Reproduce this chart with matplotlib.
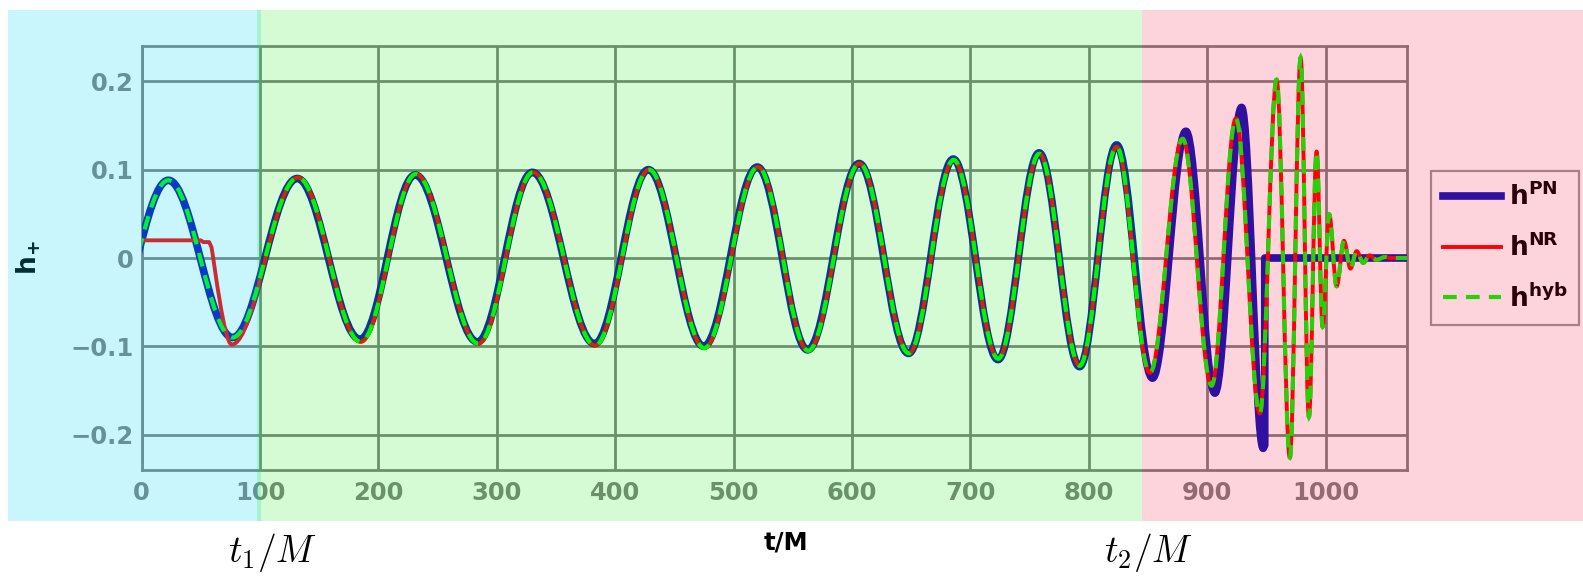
import matplotlib
matplotlib.use("Agg")
import matplotlib.pyplot as plt
from matplotlib.path import Path
from matplotlib.patches import PathPatch, Rectangle
from matplotlib.lines import Line2D
from matplotlib.transforms import blended_transform_factory
from matplotlib.ticker import FixedLocator, FixedFormatter

# ---------------- data ----------------
x_ticks = [0, 100, 200, 300, 400, 500, 600, 700, 800, 900, 1000]
x_tick_labels = ["0", "100", "200", "300", "400", "500", "600", "700", "800", "900", "1000"]
y_ticks = [-0.2, -0.1, 0.0, 0.1, 0.2]
y_tick_labels = ["\u22120.2", "\u22120.1", "0", "0.1", "0.2"]
t_range = [0, 1069]
h_range = [-0.24, 0.24]
t1_val = 100
t2_val = 845

# PN waveform: extrema (time, strain), then jump to zero
pn_ext_t = [-30.0, 22.5, 76.8, 131.4, 184.4, 231.0, 283.6, 330.0, 382.5, 428.0,
            474.7, 520.0, 562.5, 606.0, 647.7, 685.5, 723.3, 758.0, 792.2, 823.5,
            853.8, 882.0, 906.5, 929.0, 947.3]
pn_ext_h = [-0.087, 0.088, -0.090, 0.090, -0.092, 0.094, -0.095, 0.097, -0.097, 0.100,
            -0.100, 0.103, -0.104, 0.107, -0.108, 0.112, -0.115, 0.119, -0.123, 0.128,
            -0.136, 0.1435, -0.153, 0.1705, -0.2155]
pn_tail_t = [948.6, 948.6, 1069.0]
pn_tail_h = [-0.212, 0.0, 0.0]

# NR waveform: junk radiation at the start, then extrema, then flat
nr_lead_t = [0.0, 24.0, 50.0, 52.0, 57.0, 59.0]
nr_lead_h = [0.020, 0.020, 0.020, 0.018, 0.018, 0.012]
nr_ext_t = [76.0, 132.0, 185.0, 231.5, 284.3, 330.5, 383.0, 428.5, 475.2, 520.5,
            563.0, 606.3, 648.0, 685.8, 723.5, 758.2, 792.3, 823.5, 851.6, 879.2,
            903.7, 924.2, 944.5, 958.6, 969.8, 978.9, 985.9, 992.4, 997.5, 1003.0,
            1009.3, 1015.5, 1021.0, 1026.2, 1031.8, 1037.0, 1043.0, 1050.0]
nr_ext_h = [-0.098, 0.091, -0.095, 0.095, -0.097, 0.097, -0.099, 0.100, -0.102, 0.103,
            -0.105, 0.107, -0.108, 0.111, -0.114, 0.118, -0.122, 0.126, -0.130, 0.135,
            -0.1445, 0.158, -0.176, 0.202, -0.226, 0.227, -0.180, 0.1205, -0.078, 0.0495,
            -0.032, 0.0195, -0.012, 0.0078, -0.0055, 0.003, -0.002, 0.001]
nr_tail_t = [1056.0, 1069.0]
nr_tail_h = [0.0, 0.0]

# hybrid = PN before t1, NR afterwards
hyb_ext_t = pn_ext_t[:3] + nr_ext_t[1:]
hyb_ext_h = pn_ext_h[:3] + nr_ext_h[1:]

legend_labels = [r"$\mathbf{h}^{\mathbf{PN}}$", r"$\mathbf{h}^{\mathbf{NR}}$",
                 r"$\mathbf{h}^{\mathbf{hyb}}$"]

# ---------------- styles ----------------
c_pn = "#0713b7"
c_nr = "#ff0000"
c_hyb = "#00fa00"
c_grid = "#808080"
W, H = 1583, 579

fig = plt.figure(figsize=(W / 100, H / 100), dpi=100)
fig.patch.set_facecolor("white")
ax = fig.add_axes([141.7 / W, 1 - 470 / H, (1407.3 - 141.7) / W, (470 - 46) / H])
ax.set_facecolor("white")
ax.set_xlim(*t_range)
ax.set_ylim(*h_range)
ax.xaxis.set_major_locator(FixedLocator(x_ticks))
ax.xaxis.set_major_formatter(FixedFormatter(x_tick_labels))
ax.yaxis.set_major_locator(FixedLocator(y_ticks))
ax.yaxis.set_major_formatter(FixedFormatter(y_tick_labels))
ax.grid(True, color=c_grid, lw=2.0, zorder=0)
ax.set_axisbelow(True)
for s in ax.spines.values():
    s.set_color(c_grid)
    s.set_linewidth(2.0)
ax.tick_params(length=0, labelsize=17.5, labelcolor=c_grid)
ax.tick_params(axis="x", pad=8)
ax.tick_params(axis="y", pad=6)
for lab in ax.get_xticklabels() + ax.get_yticklabels():
    lab.set_fontweight("bold")

K = 0.364  # cubic-Bezier handle fraction giving a cosine-like half wave


def wave_path(ext_t, ext_h, lead_t=None, lead_h=None, tail_t=None, tail_h=None):
    verts, codes = [], []
    if lead_t:
        verts.append((lead_t[0], lead_h[0])); codes.append(Path.MOVETO)
        for a, b in zip(lead_t[1:], lead_h[1:]):
            verts.append((a, b)); codes.append(Path.LINETO)
        p0 = (lead_t[-1], lead_h[-1])
        p1 = (ext_t[0], ext_h[0])
        dt = p1[0] - p0[0]
        verts += [(p0[0] + 0.15 * dt, p0[1] - 0.02), (p1[0] - K * dt, p1[1]), p1]
        codes += [Path.CURVE4] * 3
    else:
        verts.append((ext_t[0], ext_h[0])); codes.append(Path.MOVETO)
    for i in range(len(ext_t) - 1):
        ta, ha, tb, hb = ext_t[i], ext_h[i], ext_t[i + 1], ext_h[i + 1]
        dt = tb - ta
        verts += [(ta + K * dt, ha), (tb - K * dt, hb), (tb, hb)]
        codes += [Path.CURVE4] * 3
    if tail_t:
        if len(tail_t) == 2 and tail_h[0] == 0.0:
            ta, ha = ext_t[-1], ext_h[-1]
            tb, hb = tail_t[0], tail_h[0]
            dt = tb - ta
            verts += [(ta + K * dt, ha), (tb - K * dt, hb), (tb, hb)]
            codes += [Path.CURVE4] * 3
            rest_t, rest_h = tail_t[1:], tail_h[1:]
        else:
            rest_t, rest_h = tail_t, tail_h
        for a, b in zip(rest_t, rest_h):
            verts.append((a, b)); codes.append(Path.LINETO)
    return Path(verts, codes)


pn_patch = PathPatch(wave_path(pn_ext_t, pn_ext_h, tail_t=pn_tail_t, tail_h=pn_tail_h),
                     fill=False, edgecolor=c_pn, lw=5.5, joinstyle="round",
                     capstyle="round", zorder=3)
nr_patch = PathPatch(wave_path(nr_ext_t, nr_ext_h, nr_lead_t, nr_lead_h,
                               nr_tail_t, nr_tail_h),
                     fill=False, edgecolor=c_nr, lw=2.8, joinstyle="round", zorder=4)
hyb_patch = PathPatch(wave_path(hyb_ext_t, hyb_ext_h, tail_t=nr_tail_t, tail_h=nr_tail_h),
                      fill=False, edgecolor=c_hyb, lw=3.0, zorder=5,
                      linestyle=(0, (3.3, 2.2)))
for p in (pn_patch, nr_patch, hyb_patch):
    ax.add_patch(p)

# legend
handles = [Line2D([], [], color=c_pn, lw=5.5),
           Line2D([], [], color=c_nr, lw=2.8),
           Line2D([], [], color=c_hyb, lw=3.0, linestyle=(0, (3.3, 2.2)))]
leg = fig.legend(handles, legend_labels, loc="upper left",
                 bbox_to_anchor=(1431 / W, 1 - 171 / H), bbox_transform=fig.transFigure,
                 borderaxespad=0, fancybox=False, frameon=True, fontsize=19,
                 handlelength=2.2, handletextpad=0.3, labelspacing=0.84,
                 borderpad=0.45)
leg.get_frame().set_edgecolor(c_grid)
leg.get_frame().set_linewidth(1.6)
leg.get_frame().set_facecolor("none")
for txt in leg.get_texts():
    txt.set_color("black")

# y label and x labels
fig.text(29 / W, 1 - 258 / H, r"$\mathbf{h}_{\mathbf{+}}$", rotation=90,
         ha="center", va="center", fontsize=19, color="black")
fig.text(786 / W, 1 - 543 / H, "t/M", ha="center", va="center", fontsize=17.5,
         fontweight="bold", color="black")
fig.text(272 / W, 1 - 553 / H, r"$t_1/M$", ha="center", va="center", fontsize=27,
         math_fontfamily="cm", color="black")
fig.text(1148 / W, 1 - 553 / H, r"$t_2/M$", ha="center", va="center", fontsize=27,
         math_fontfamily="cm", color="black")

# translucent region overlays (cover the whole upper figure)
tr = blended_transform_factory(ax.transData, fig.transFigure)
y0 = 1 - 521 / H
y1 = 1 - 9.5 / H
x_left = (8 - 141.7) / 1.1844
x_right = (W + 5 - 141.7) / 1.1844
regions = [
    (x_left, t1_val + 0.6, (3 / 255, 212 / 255, 241 / 255), 0.21),
    (t1_val - 2.8, t2_val, (2 / 255, 237 / 255, 0 / 255), 0.17),
    (t2_val, x_right, (249 / 255, 2 / 255, 49 / 255), 0.17),
]
for xa, xb, col, a in regions:
    r = Rectangle((xa, y0), xb - xa, y1 - y0, transform=tr, facecolor=col,
                  edgecolor="none", alpha=a, zorder=20, clip_on=False)
    fig.add_artist(r)

fig.savefig("out.png", dpi=100)
